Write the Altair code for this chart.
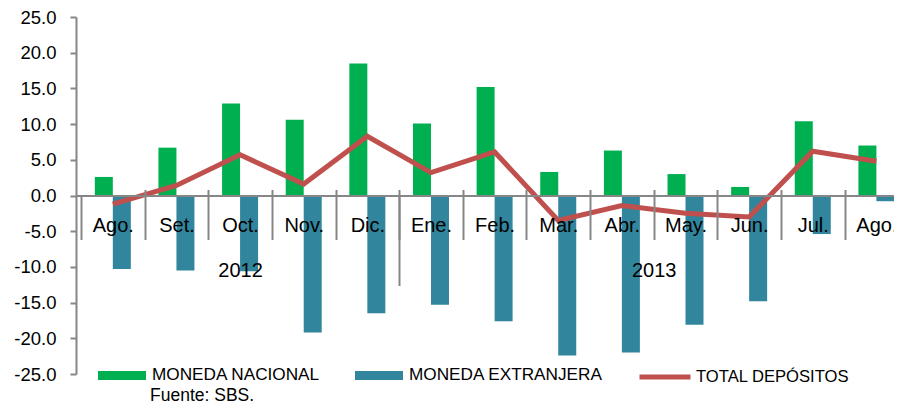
import altair as alt
import pandas as pd

# ---- data ----
meses = ["Ago.", "Set.", "Oct.", "Nov.", "Dic.", "Ene.", "Feb.", "Mar.", "Abr.", "May.", "Jun.", "Jul.", "Ago."]
anios = ["2012"] * 5 + ["2013"] * 8
nacional = [2.6, 6.7, 12.9, 10.6, 18.5, 10.1, 15.2, 3.3, 6.3, 3.0, 1.2, 10.4, 7.0]
extranjera = [-10.3, -10.5, -10.6, -19.2, -16.5, -15.3, -17.6, -22.4, -22.0, -18.1, -14.8, -5.4, -0.8]
total = [-1.2, 1.4, 5.7, 1.6, 8.3, 3.2, 6.1, -3.5, -1.4, -2.5, -3.0, 6.2, 4.8]
series = ["MONEDA NACIONAL", "MONEDA EXTRANJERA", "TOTAL  DEPÓSITOS"]
colores = ["#00B050", "#31859C", "#C0504D"]
y_ticks = [-25, -20, -15, -10, -5, 0, 5, 10, 15, 20, 25]
fuente = "Fuente: SBS."

n = len(meses)
barras = pd.DataFrame({
    "i": list(range(n)) * 2,
    "serie": [series[0]] * n + [series[1]] * n,
    "valor": nacional + extranjera,
})
linea = pd.DataFrame({"i": list(range(n)), "serie": series[2], "valor": total})

# year groups derived from the month list
lista_anios = sorted(set(anios))
centros_anio = [sum(i + 0.5 for i, a in enumerate(anios) if a == y) / anios.count(y) for y in lista_anios]
limite_anio = anios.index(lista_anios[1])

# ---- layout / style ----
FONT = "Liberation Sans"
GRAY = "#868686"
W, H = 818, 357
CAT = 64.42
OFF = -H / 2
xscale = alt.Scale(domain=[0, W / CAT], nice=False, zero=False)
yscale = alt.Scale(domain=[y_ticks[0], y_ticks[-1]], nice=False)

lab_meses = "[" + ",".join("'%s'" % m for m in meses) + "][floor(datum.value)]"
lab_anios = "datum.value < %d ? '%s' : '%s'" % (limite_anio, lista_anios[0], lista_anios[1])

y_axis = alt.Axis(values=y_ticks, labelExpr="(datum.value < 0 ? '-' : '') + format(abs(datum.value), '.1f')",
                  domainColor=GRAY, domainWidth=2, tickColor=GRAY, tickWidth=2, tickSize=6,
                  labelPadding=14, labelFontSize=18.5, labelFont=FONT, labelColor="black",
                  grid=False, title=None)

ax_meses = alt.Axis(values=[i + 0.5 for i in range(n)], labelExpr=lab_meses, orient="bottom", offset=OFF,
                    domain=True, domainColor=GRAY, domainWidth=2, ticks=False, tickSize=0,
                    labelPadding=20, labelFontSize=20, labelFont=FONT, labelColor="black",
                    labelOverlap=False, labelFlush=False, grid=False, title=None, zindex=1)
ax_div = alt.Axis(values=list(range(n)), orient="bottom", offset=OFF, domain=False, ticks=True,
                  tickSize=44, tickColor=GRAY, tickWidth=2, labels=False, grid=False, title=None, zindex=1)
ax_div_top = alt.Axis(values=list(range(1, n)), orient="top", offset=OFF, domain=False, ticks=True,
                      tickSize=6, tickColor=GRAY, tickWidth=2, labels=False, grid=False, title=None, zindex=1)
ax_anio_tick = alt.Axis(values=[limite_anio], orient="bottom", offset=OFF, domain=False, ticks=True,
                        tickSize=90, tickColor=GRAY, tickWidth=2, labels=False, grid=False, title=None, zindex=1)
ax_anio = alt.Axis(values=centros_anio, labelExpr=lab_anios, orient="bottom", offset=OFF, domain=False,
                   ticks=False, tickSize=0, labelPadding=65, labelFontSize=20, labelFont=FONT,
                   labelColor="black", labelOverlap=False, labelFlush=False, grid=False, title=None, zindex=1)

color_enc = alt.Color("serie:N", scale=alt.Scale(domain=series[:2], range=colores[:2]),
                      legend=alt.Legend(orient="none", legendX=22, legendY=334, direction="horizontal",
                                        title=None, symbolType="M-1,-0.1875H1V0.1875H-1Z", symbolSize=2304,
                                        symbolStrokeWidth=0, symbolOpacity=1, labelFontSize=17.2,
                                        labelFont=FONT, labelColor="black", labelOffset=6,
                                        columnPadding=34, labelLimit=400))
stroke_enc = alt.Stroke("serie:N", scale=alt.Scale(domain=[series[2]], range=[colores[2]]),
                        legend=alt.Legend(orient="none", legendX=561, legendY=332, title=None,
                                          symbolType="stroke", symbolSize=2601, symbolStrokeWidth=5,
                                          labelFontSize=16.6, labelFont=FONT, labelColor="black",
                                          labelOffset=3, labelLimit=400))

base_b = alt.Chart(barras).transform_calculate(c="datum.i + 0.5")
base_l = alt.Chart(linea).transform_calculate(c="datum.i + 0.5")

verde = base_b.transform_filter(alt.datum.serie == series[0]).mark_bar(
    orient="vertical", size=18, xOffset=-9).encode(
    x=alt.X("c:Q", scale=xscale, axis=ax_meses),
    y=alt.Y("valor:Q", scale=yscale, axis=y_axis),
    color=color_enc)
azul = base_b.transform_filter(alt.datum.serie == series[1]).mark_bar(
    orient="vertical", size=18, xOffset=9).encode(
    x=alt.X("c:Q", scale=xscale, axis=ax_div),
    y=alt.Y("valor:Q", scale=yscale, axis=y_axis),
    color=color_enc)
linea_m = base_l.mark_line(strokeWidth=5).encode(
    x=alt.X("c:Q", scale=xscale, axis=ax_div_top),
    y=alt.Y("valor:Q", scale=yscale, axis=y_axis),
    stroke=stroke_enc)
inv1 = base_l.mark_point(opacity=0).encode(
    x=alt.X("c:Q", scale=xscale, axis=ax_anio),
    y=alt.Y("valor:Q", scale=yscale, axis=y_axis))
inv2 = base_l.mark_point(opacity=0).encode(
    x=alt.X("c:Q", scale=xscale, axis=ax_anio_tick),
    y=alt.Y("valor:Q", scale=yscale, axis=y_axis))

chart = alt.layer(verde, azul, linea_m, inv1, inv2).resolve_axis(x="independent").properties(
    width=W, height=H,
    autosize=alt.AutoSizeParams(type="none"),
    padding={"left": 68, "top": 9, "right": 0, "bottom": 30},
    title=alt.TitleParams(fuente, orient="bottom", anchor="start", frame="group", offset=0, dx=74,
                          fontSize=17.5, fontWeight="normal", font=FONT, color="black"),
    background="white",
).configure_view(stroke=None)

chart.save("out.html", embed_options={"renderer": "svg", "actions": False})
